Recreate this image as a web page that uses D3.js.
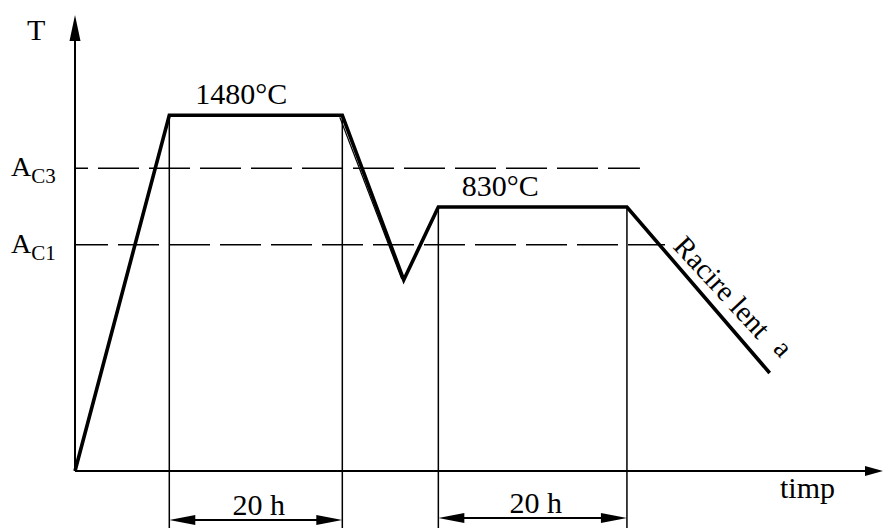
<!DOCTYPE html>
<html>
<head>
<meta charset="utf-8">
<script src="https://cdn.jsdelivr.net/npm/d3@7"></script>
<style>
  html, body { margin: 0; padding: 0; background: #fff; }
  svg { display: block; }
</style>
</head>
<body>
<script>
// heat treatment profile, values in schematic units (time ~ h, temperature as relative level)
const profileTime = [0, 10.9, 30.9, 38.0, 42.0, 63.8, 80.3];
const profileTemp = [0, 78, 78, 41.9, 57.9, 57.9, 21.5];

// critical temperatures (dashed lines)
const criticalNames = ["C3", "C1"];
const criticalLevels = [66.4, 49.6];
const criticalEnds = [65.3, 68.2];

// holds
const holdLabels = ["1480°C", "830°C"];
const holdLabelStart = [13.9, 44.7];
const holdStart = [10.9, 42.0];
const holdEnd = [30.9, 63.8];
const holdLevel = [78, 57.9];
const holdDuration = ["20 h", "20 h"];

const coolingLabel = "Racire lent";
const coolingMark = "a";
const axisLabels = { y: "T", x: "timp" };

const width = 883, height = 528;
const serif = "'Liberation Serif', 'Times New Roman', Times, serif";

const x = d3.scaleLinear().domain([0, 93.4]).range([75, 883]);
const y = d3.scaleLinear().domain([0, 100]).range([471, 15]);

const svg = d3.select("body").append("svg")
  .attr("width", width)
  .attr("height", height)
  .attr("font-family", serif)
  .style("font-family", serif);

const x0 = x(0), y0 = y(0);

// dashed critical lines
svg.append("g")
  .selectAll("line")
  .data(criticalLevels)
  .join("line")
  .attr("x1", x0)
  .attr("x2", (d, i) => x(criticalEnds[i]))
  .attr("y1", d => y(d))
  .attr("y2", d => y(d))
  .attr("stroke", "#000")
  .attr("stroke-width", 1.6)
  .attr("stroke-dasharray", "41,10")
  .attr("stroke-dashoffset", (d, i) => i ? 8 : 28);

// critical labels
const crit = svg.append("g")
  .selectAll("text")
  .data(criticalLevels)
  .join("text")
  .attr("x", 11)
  .attr("y", d => y(d) + 8)
  .style("font-family", serif)
  .style("font-size", "28px");
crit.append("tspan").text("A");
crit.append("tspan")
  .attr("dy", 7)
  .style("font-size", "21px")
  .text((d, i) => criticalNames[i]);

// thin vertical guide lines
const guides = holdStart.flatMap((s, i) => [
  { t: s, v: holdLevel[i] },
  { t: holdEnd[i], v: holdLevel[i] }
]);
svg.append("g")
  .selectAll("line")
  .data(guides)
  .join("line")
  .attr("x1", d => x(d.t))
  .attr("x2", d => x(d.t))
  .attr("y1", d => y(d.v))
  .attr("y2", height)
  .attr("stroke", "#000")
  .attr("stroke-width", 1.5);

// axes with arrows
const axes = svg.append("g");
axes.append("line")
  .attr("x1", x0).attr("y1", y0)
  .attr("x2", x0).attr("y2", 38)
  .attr("stroke", "#000").attr("stroke-width", 2);
axes.append("path")
  .attr("d", `M${x0},15 L${x0 - 5.5},41 L${x0 + 5.5},41 Z`)
  .attr("fill", "#000");
axes.append("line")
  .attr("x1", x0).attr("y1", y0)
  .attr("x2", 868).attr("y2", y0)
  .attr("stroke", "#000").attr("stroke-width", 2);
axes.append("path")
  .attr("d", `M883,${y0} L865,${y0 - 5} L865,${y0 + 5} Z`)
  .attr("fill", "#000");

axes.append("text")
  .attr("x", 27).attr("y", 40)
  .style("font-family", serif)
  .style("font-size", "30px")
  .text(axisLabels.y);
axes.append("text")
  .attr("x", 780).attr("y", 498)
  .style("font-family", serif)
  .style("font-size", "30px")
  .text(axisLabels.x);

// profile
const pts = profileTime.map((t, i) => [x(t), y(profileTemp[i])]);

// thin companion stroke on first cooling segment
const a = pts[2], b = pts[3];
svg.append("line")
  .attr("x1", a[0] - 2.5).attr("y1", a[1] + 2)
  .attr("x2", b[0] - 2).attr("y2", b[1] - 1)
  .attr("stroke", "#000")
  .attr("stroke-width", 1.2);

svg.append("path")
  .datum(pts)
  .attr("d", d3.line())
  .attr("fill", "none")
  .attr("stroke", "#000")
  .attr("stroke-width", 3.6)
  .attr("stroke-linejoin", "miter");

// hold temperature labels
svg.append("g")
  .selectAll("text")
  .data(holdLabels)
  .join("text")
  .attr("x", (d, i) => x(holdLabelStart[i]))
  .attr("y", (d, i) => y(holdLevel[i]) - 11)
  .style("font-family", serif)
  .style("font-size", "30px")
  .text(d => d);

// dimension lines for hold durations
const dimY = [520, 518];
const dim = svg.append("g")
  .selectAll("g")
  .data(holdDuration)
  .join("g");
dim.append("line")
  .attr("x1", (d, i) => x(holdStart[i]) + 10)
  .attr("x2", (d, i) => x(holdEnd[i]) - 10)
  .attr("y1", (d, i) => dimY[i])
  .attr("y2", (d, i) => dimY[i])
  .attr("stroke", "#000")
  .attr("stroke-width", 2);
dim.append("path")
  .attr("d", (d, i) => {
    const l = x(holdStart[i]), r = x(holdEnd[i]), yy = dimY[i];
    return `M${l},${yy} L${l + 26},${yy - 5} L${l + 26},${yy + 5} Z ` +
      `M${r},${yy} L${r - 26},${yy - 5} L${r - 26},${yy + 5} Z`;
  })
  .attr("fill", "#000");
dim.append("text")
  .attr("x", (d, i) => (x(holdStart[i]) + x(holdEnd[i])) / 2 + 3)
  .attr("y", (d, i) => dimY[i] - 5)
  .attr("text-anchor", "middle")
  .style("font-family", serif)
  .style("font-size", "30px")
  .text(d => d);

// slow cooling label along the last segment
const c0 = pts[5], c1 = pts[6];
const dx = c1[0] - c0[0], dy = c1[1] - c0[1];
const len = Math.hypot(dx, dy);
const ux = dx / len, uy = dy / len;
const nx = uy, ny = -ux; // normal pointing up-right
const ang = Math.atan2(dy, dx) * 180 / Math.PI;

function along(s, off) {
  return [c0[0] + ux * s + nx * off, c0[1] + uy * s + ny * off];
}

const p1 = along(60, 8);
svg.append("text")
  .attr("transform", `translate(${p1[0]},${p1[1]}) rotate(${ang - 2})`)
  .style("font-family", serif)
  .style("font-size", "29px")
  .text(coolingLabel);

const p2 = along(203, 17);
svg.append("text")
  .attr("transform", `translate(${p2[0]},${p2[1]}) rotate(${ang - 2})`)
  .style("font-family", serif)
  .style("font-size", "28px")
  .text(coolingMark);
</script>
</body>
</html>
